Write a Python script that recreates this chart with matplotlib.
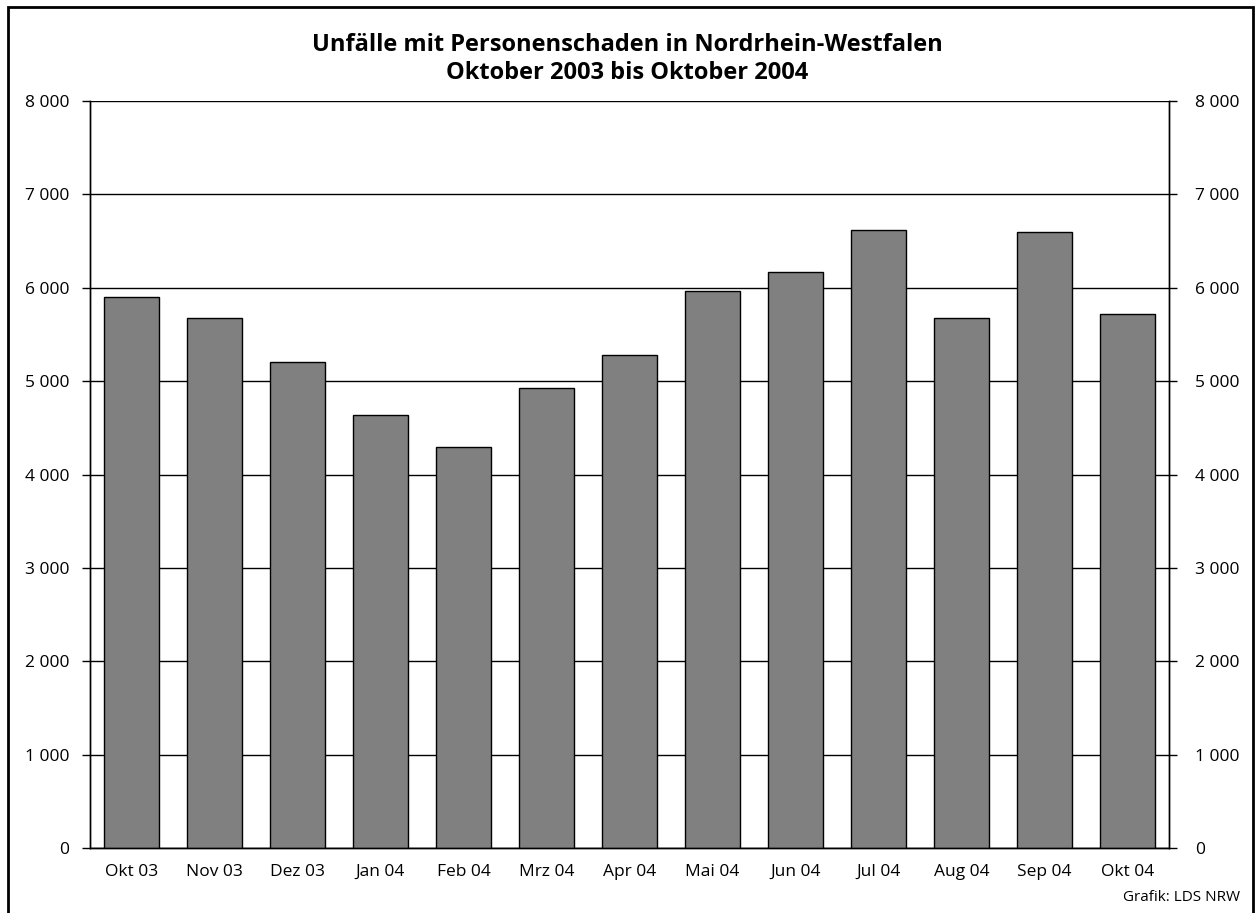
import numpy as np
import matplotlib.pyplot as plt
from matplotlib.patches import Rectangle
from matplotlib.ticker import FuncFormatter

plt.rcParams['font.family'] = ['Open Sans', 'DejaVu Sans']

months = ['Okt 03', 'Nov 03', 'Dez 03', 'Jan 04', 'Feb 04', 'Mrz 04', 'Apr 04',
          'Mai 04', 'Jun 04', 'Jul 04', 'Aug 04', 'Sep 04', 'Okt 04']
unfaelle = [5903, 5674, 5210, 4639, 4300, 4932, 5278, 5967, 6170, 6620, 5681, 6598, 5721]
yticks = [0, 1000, 2000, 3000, 4000, 5000, 6000, 7000, 8000]

fig = plt.figure(figsize=(12.55, 9.13), dpi=100)
ax = fig.add_axes([0.0717, 0.0709, 0.8598, 0.8185])

x = np.arange(len(months))
ax.set_axisbelow(True)
ax.bar(x, unfaelle, width=0.66, color='#808080', edgecolor='black', linewidth=1, zorder=3)

fmt = FuncFormatter(lambda v, p: f'{int(v):,}'.replace(',', ' '))

ax.set_xlim(-0.5, len(months) - 0.5)
ax.set_ylim(0, 8000)
ax.set_yticks(yticks)
ax.yaxis.set_major_formatter(fmt)
ax.yaxis.grid(True, color='black', linewidth=1)
ax.tick_params(axis='y', direction='out', length=6, width=1, labelsize=12.5, pad=9)
ax.set_xticks(x)
ax.set_xticklabels(months)
ax.tick_params(axis='x', length=0, labelsize=12.5, pad=11)

# right axis with the same scale
ax2 = ax.twinx()
ax2.set_ylim(0, 8000)
ax2.set_yticks(yticks)
ax2.yaxis.set_major_formatter(fmt)
ax2.tick_params(axis='y', direction='out', length=6, width=1, labelsize=12.5, pad=13)

for a in (ax, ax2):
    for s in ['left', 'right', 'bottom']:
        a.spines[s].set_linewidth(1)
        a.spines[s].set_color('black')
    a.spines['top'].set_visible(False)

fig.text(0.5, 0.951, 'Unfälle mit Personenschaden in Nordrhein-Westfalen',
         ha='center', va='center', fontsize=17, fontweight='bold')
fig.text(0.5, 0.920, 'Oktober 2003 bis Oktober 2004',
         ha='center', va='center', fontsize=17, fontweight='bold')
fig.text(0.988, 0.0175, 'Grafik: LDS NRW', ha='right', va='center', fontsize=11)

fig.patches.append(Rectangle((8 / 1255, -0.05), (1253 - 8) / 1255, 1.05 - 7 / 913,
                             transform=fig.transFigure, fill=False,
                             edgecolor='black', linewidth=2, clip_on=False))

fig.savefig('out.png', dpi=100)
